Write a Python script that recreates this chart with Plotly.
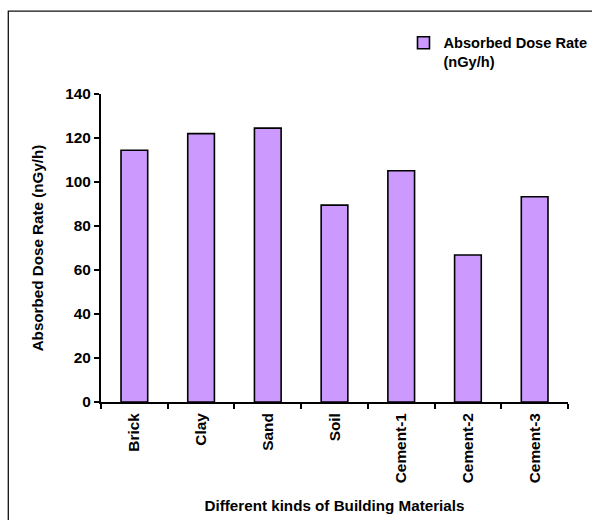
import plotly.graph_objects as go

# Building materials and their absorbed dose rates (nGy/h)
materials = ["Brick", "Clay", "Sand", "Soil", "Cement-1", "Cement-2", "Cement-3"]
dose_rate = [114.4, 122.0, 124.5, 89.5, 105.1, 66.8, 93.3]
y_ticks = [0, 20, 40, 60, 80, 100, 120, 140]
series_name = "<b>Absorbed Dose Rate</b><br><b>(nGy/h)</b>"

FONT = "Liberation Sans, Arial, sans-serif"
FS = 15.2
TICK_FS = 15.4
LEGEND_FS = 14.6

fig = go.Figure(
    go.Bar(
        x=materials,
        y=dose_rate,
        name=series_name,
        marker=dict(color="#CC99FF", line=dict(color="black", width=1.6)),
        showlegend=True,
    )
)

fig.update_layout(
    width=592,
    height=520,
    margin=dict(l=101, r=24, t=94, b=118, autoexpand=False),
    paper_bgcolor="white",
    plot_bgcolor="white",
    bargap=0.6,
    font=dict(family=FONT, size=FS, color="black"),
    showlegend=True,
    legend=dict(
        x=0.667,
        y=1.2185,
        xanchor="left",
        yanchor="top",
        valign="top",
        indentation=-9,
        bgcolor="rgba(0,0,0,0)",
        font=dict(family=FONT, size=LEGEND_FS, color="black"),
        tracegroupgap=0,
    ),
    xaxis=dict(
        type="category",
        tickvals=materials,
        ticktext=[f"<b>{m}</b>" for m in materials],
        showline=True,
        linecolor="black",
        linewidth=2,
        ticks="outside",
        tickson="boundaries",
        ticklen=5,
        tickwidth=2,
        tickcolor="black",
        tickangle=-90,
        ticklabelstandoff=3,
        showgrid=False,
        zeroline=False,
        automargin=False,
        tickfont=dict(family=FONT, size=TICK_FS, color="black"),
        title=dict(
            text="<b>Different kinds of Building Materials</b>",
            font=dict(family=FONT, size=FS, color="black"),
            standoff=18,
        ),
    ),
    yaxis=dict(
        range=[0, 140],
        tickvals=y_ticks,
        ticktext=[f"<b>{v}</b>" for v in y_ticks],
        showline=True,
        linecolor="black",
        linewidth=2,
        ticks="outside",
        ticklen=5,
        tickwidth=2,
        tickcolor="black",
        showgrid=False,
        zeroline=False,
        automargin=False,
        tickfont=dict(family=FONT, size=TICK_FS, color="black"),
        title=dict(
            text="<b>Absorbed Dose Rate (nGy/h)</b>",
            font=dict(family=FONT, size=FS, color="black"),
            standoff=18,
        ),
    ),
    shapes=[
        dict(
            type="rect",
            xref="paper",
            yref="paper",
            x0=-0.1985,
            x1=1.1,
            y0=-0.5,
            y1=1.269,
            line=dict(color="#111111", width=1.3),
            fillcolor="rgba(0,0,0,0)",
            layer="below",
        )
    ],
)

fig.write_html("out.html")
